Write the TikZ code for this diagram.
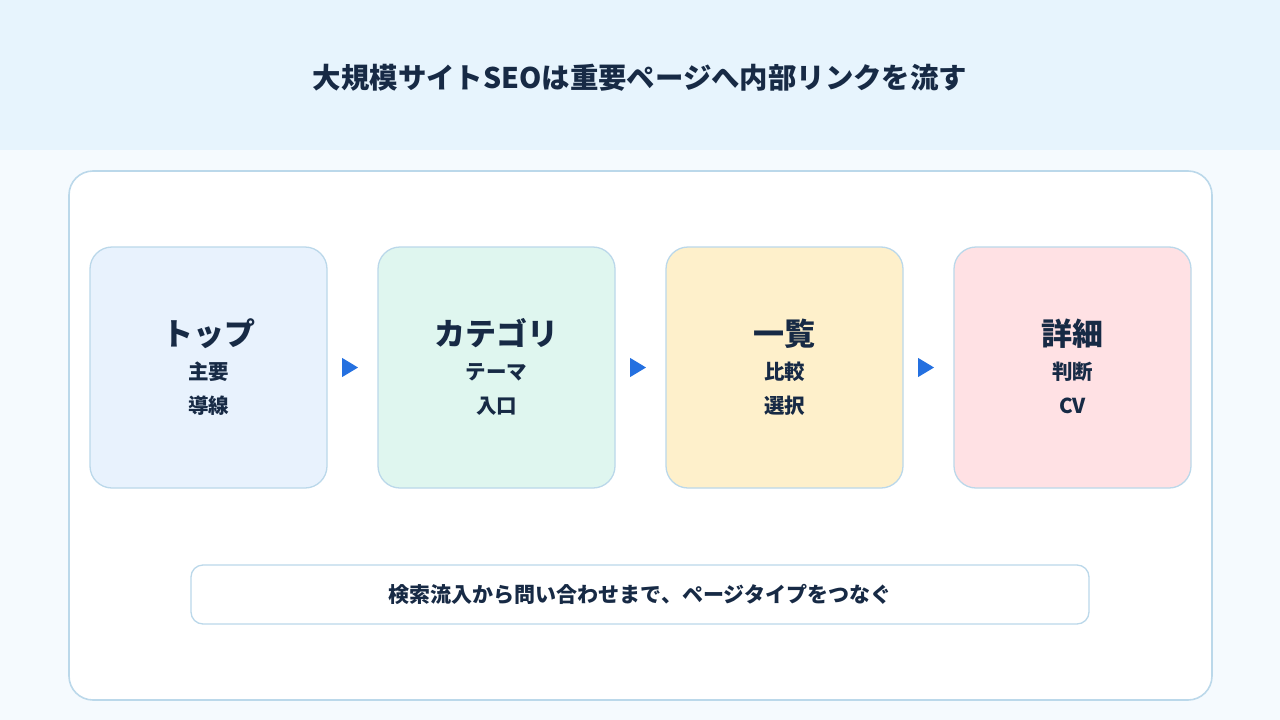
\documentclass[tikz,border=0pt]{standalone}
\usepackage{fontspec}
\setmainfont{Noto Sans CJK JP}
\usepackage{xcolor}
\usetikzlibrary{arrows.meta, positioning}

\definecolor{headbg}{HTML}{E7F4FD}
\definecolor{pagebg}{HTML}{F5FAFE}
\definecolor{edge}{HTML}{BBD8EA}
\definecolor{ink}{HTML}{172A45}
\definecolor{flowblue}{HTML}{2470E0}
\definecolor{topfill}{HTML}{E8F2FD}
\definecolor{catfill}{HTML}{DFF6EF}
\definecolor{listfill}{HTML}{FEF0CB}
\definecolor{detailfill}{HTML}{FFE1E4}

\newcommand{\stagehead}[1]{{\fontsize{31}{37}\selectfont #1}}

\begin{document}
\begin{tikzpicture}[
    x=1pt, y=-1pt,
    node distance=51pt,
    panel/.style={rectangle, rounded corners=24pt, draw=edge, line width=1.6pt, fill=white},
    stage/.style={rectangle, rounded corners=22pt, draw=edge, line width=1.3pt, outer sep=0pt, minimum width=237pt, minimum height=241pt, align=center, text=ink, font=\fontsize{20.5}{34}\selectfont\bfseries},
    note/.style={rectangle, rounded corners=12pt, draw=edge, line width=1.3pt, fill=white, minimum width=898pt, minimum height=59pt, text=ink, font=\fontsize{21}{25}\selectfont\bfseries},
    flow/.style={-{Triangle[length=16pt, width=19pt]}, draw=flowblue, fill=flowblue, line width=1pt, shorten <=15pt, shorten >=20pt},
]
    % background and header band
    \fill[pagebg] (0,150) rectangle (1280,720);
    \fill[headbg] (0,0) rectangle (1280,150);
    \useasboundingbox (0,0) rectangle (1280,720);

    \node[text=ink, font=\fontsize{28.4}{34}\selectfont\bfseries] (title) at (640,78) {大規模サイトSEOは重要ページへ内部リンクを流す};

    \node[panel, minimum width=1143pt, minimum height=529pt] (panel) at (640.5,435.5) {};

    % page types
    \node[stage, fill=topfill] (top) at (208.5,367.5) {\stagehead{トップ}\\主要\\導線\rule[-3pt]{0pt}{0pt}};
    \node[stage, fill=catfill, right=of top] (cat) {\stagehead{カテゴリ}\\テーマ\\入口\rule[-3pt]{0pt}{0pt}};
    \node[stage, fill=listfill, right=of cat] (list) {\stagehead{一覧}\\比較\\選択\rule[-3pt]{0pt}{0pt}};
    \node[stage, fill=detailfill, right=of list] (detail) {\stagehead{詳細}\\判断\\CV\rule[-3pt]{0pt}{0pt}};

    \draw[flow] (top) -- (cat);
    \draw[flow] (cat) -- (list);
    \draw[flow] (list) -- (detail);

    \node[note] (summary) at (640,594.5) {検索流入から問い合わせまで、ページタイプをつなぐ};
\end{tikzpicture}
\end{document}
